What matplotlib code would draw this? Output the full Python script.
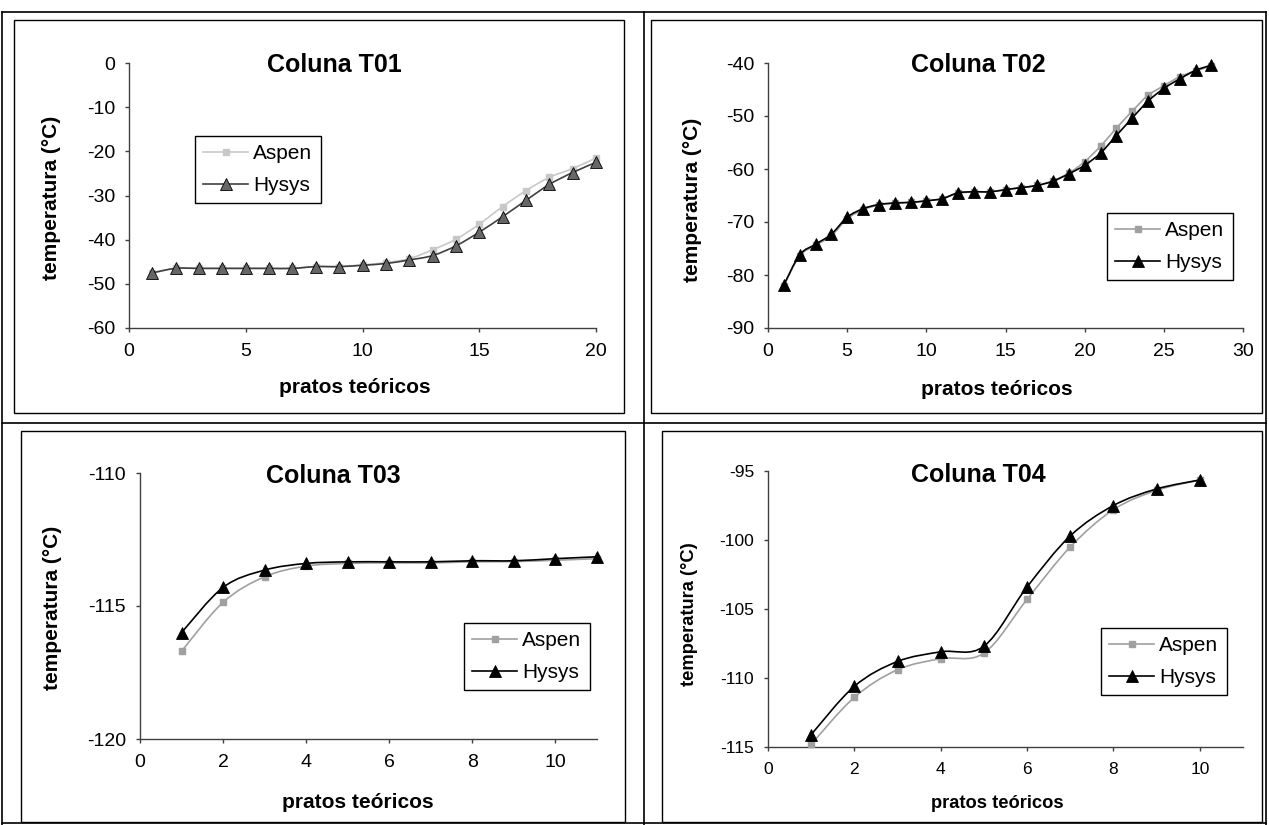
import numpy as np
import matplotlib.pyplot as plt
from matplotlib.path import Path
from matplotlib.patches import PathPatch, Rectangle
from matplotlib.lines import Line2D

plt.rcParams['font.family'] = ['Liberation Sans', 'DejaVu Sans']
plt.rcParams['axes.unicode_minus'] = False

W, H = 1269, 825

# ---- data ----
pratos_t01 = list(range(1, 21))
aspen_t01 = [-47.6, -46.5, -46.5, -46.5, -46.5, -46.5, -46.5, -46.1, -46.1, -45.7,
             -45.2, -44.3, -42.3, -39.9, -36.5, -32.5, -28.9, -25.9, -23.9, -21.5]
hysys_t01 = [-47.5, -46.5, -46.5, -46.5, -46.5, -46.5, -46.5, -46.1, -46.1, -45.8,
             -45.4, -44.6, -43.6, -41.4, -38.3, -34.8, -31.1, -27.5, -24.8, -22.5]

pratos_t02 = list(range(1, 29))
aspen_t02 = [-82.0, -76.4, -74.4, -72.6, -69.4, -67.7, -66.8, -66.5, -66.3, -66.0,
             -65.6, -64.6, -64.3, -64.3, -63.9, -63.5, -63.1, -62.2, -60.8, -58.6,
             -55.7, -52.3, -49.1, -46.1, -44.3, -42.6, -41.5, -40.6]
hysys_t02 = [-81.9, -76.2, -74.2, -72.3, -69.1, -67.5, -66.7, -66.4, -66.3, -66.0,
             -65.6, -64.5, -64.3, -64.3, -63.9, -63.5, -63.1, -62.3, -60.9, -59.3,
             -57.0, -53.7, -50.4, -47.2, -44.8, -43.0, -41.4, -40.4]

pratos_t03 = list(range(1, 12))
aspen_t03 = [-116.7, -114.86, -113.9, -113.5, -113.4, -113.38, -113.38, -113.34,
             -113.33, -113.28, -113.22]
hysys_t03 = [-116.0, -114.3, -113.65, -113.4, -113.34, -113.34, -113.34, -113.3,
             -113.3, -113.22, -113.15]

pratos_t04 = list(range(1, 11))
aspen_t04 = [-114.8, -111.4, -109.4, -108.6, -108.2, -104.3, -100.5, -97.8, -96.4, -95.65]
hysys_t04 = [-114.1, -110.6, -108.8, -108.1, -107.7, -103.4, -99.7, -97.5, -96.3, -95.65]

series_names = ['Aspen', 'Hysys']
titles = ['Coluna T01', 'Coluna T02', 'Coluna T03', 'Coluna T04']
xlabel = 'pratos teóricos'
ylabel = 'temperatura (°C)'


def smooth_path(x, y):
    # Excel-like smoothed line as cubic bezier segments through the points
    pts = np.column_stack([x, y]).astype(float)
    n = len(pts)
    verts = [pts[0]]
    codes = [Path.MOVETO]
    for i in range(n - 1):
        p0 = pts[max(i - 1, 0)]
        p1 = pts[i]
        p2 = pts[i + 1]
        p3 = pts[min(i + 2, n - 1)]
        verts += [p1 + (p2 - p0) / 6, p2 - (p3 - p1) / 6, p2]
        codes += [Path.CURVE4] * 3
    return Path(verts, codes)


fig = plt.figure(figsize=(W / 100, H / 100), dpi=100)


def fx(px):
    return px / W


def fy(py):
    return 1 - py / H


# table lines
for (x0, y0, x1, y1) in [(2, 12, 1266, 12), (2, 423, 1266, 423), (2, 823, 1266, 823),
                         (2, 12, 2, 825), (644, 12, 644, 825), (1266, 12, 1266, 825)]:
    fig.add_artist(Line2D([fx(x0), fx(x1)], [fy(y0), fy(y1)], color='black', lw=1.2))

# chart area boxes
for (l, t, r, b) in [(14, 20, 624, 413), (651, 20, 1262, 413),
                     (21, 431, 625, 822), (662, 431, 1262, 822)]:
    fig.add_artist(Rectangle((fx(l), fy(b)), fx(r - l), (b - t) / H, fill=False,
                             edgecolor='black', lw=1.0))

panels = [
    dict(x=pratos_t01, a=aspen_t01, h=hysys_t01, box=(129, 63, 596, 328),
         xlim=(0, 20), ylim=(-60, 0), xt=np.arange(0, 21, 5), yt=np.arange(-60, 1, 10),
         acol='#c8c8c8', hcol='#404040', hface='#666666',
         title_xy=(334, 65), xl_xy=(355, 388), yl_xy=(52, 198),
         leg=(195, 136), fs=14, lfs=15),
    dict(x=pratos_t02, a=aspen_t02, h=hysys_t02, box=(768, 63, 1243, 328),
         xlim=(0, 30), ylim=(-90, -40), xt=np.arange(0, 31, 5), yt=np.arange(-90, -39, 10),
         acol='#a0a0a0', hcol='black', hface='black',
         title_xy=(978, 65), xl_xy=(997, 390), yl_xy=(693, 200),
         leg=(1107, 213), fs=14, lfs=15),
    dict(x=pratos_t03, a=aspen_t03, h=hysys_t03, box=(140, 473, 597, 739),
         xlim=(0, 11), ylim=(-120, -110), xt=np.arange(0, 11, 2), yt=[-120, -115, -110],
         acol='#a0a0a0', hcol='black', hface='black',
         title_xy=(333, 476), xl_xy=(358, 802), yl_xy=(53, 608),
         leg=(464, 623), fs=14, lfs=15),
    dict(x=pratos_t04, a=aspen_t04, h=hysys_t04, box=(768, 471, 1243, 747),
         xlim=(0, 11), ylim=(-115, -95), xt=np.arange(0, 11, 2), yt=np.arange(-115, -94, 5),
         acol='#a0a0a0', hcol='black', hface='black',
         title_xy=(978, 475), xl_xy=(997, 803), yl_xy=(689, 614),
         leg=(1101, 628), fs=12.5, lfs=13.2),
]

for title, p in zip(titles, panels):
    l, t, r, b = p['box']
    ax = fig.add_axes([fx(l), fy(b), (r - l) / W, (b - t) / H])
    ax.set_xlim(*p['xlim'])
    ax.set_ylim(*p['ylim'])
    ax.set_xticks(p['xt'])
    ax.set_yticks(p['yt'])
    for s in ['top', 'right']:
        ax.spines[s].set_visible(False)
    for s in ['left', 'bottom']:
        ax.spines[s].set_color('#404040')
        ax.spines[s].set_linewidth(1.0)
    ax.tick_params(direction='out', length=3, width=1.0, color='#404040',
                   labelsize=p['fs'], pad=7)
    ax.tick_params(axis='x', pad=8)
    ax.patch.set_alpha(0)

    # Aspen
    ax.add_patch(PathPatch(smooth_path(p['x'], p['a']), fill=False,
                           edgecolor=p['acol'], lw=1.2, zorder=2))
    ax.plot(p['x'], p['a'], ls='none', marker='s', ms=3.8, color=p['acol'],
            clip_on=False, zorder=3)
    # Hysys
    ax.add_patch(PathPatch(smooth_path(p['x'], p['h']), fill=False,
                           edgecolor=p['hcol'], lw=1.2, zorder=4))
    ax.plot(p['x'], p['h'], ls='none', marker='^', ms=9, markerfacecolor=p['hface'],
            markeredgecolor='black', markeredgewidth=0.6, clip_on=False, zorder=5)

    handles = [
        Line2D([], [], color=p['acol'], lw=1.2, marker='s', ms=3.8),
        Line2D([], [], color=p['hcol'], lw=1.2, marker='^', ms=9,
               markerfacecolor=p['hface'], markeredgecolor='black', markeredgewidth=0.6),
    ]
    lx, ly = p['leg']
    leg = ax.legend(handles, series_names, loc='upper left',
                    bbox_to_anchor=(fx(lx), fy(ly)), bbox_transform=fig.transFigure,
                    borderaxespad=0, fancybox=False, framealpha=1, edgecolor='black',
                    fontsize=15, handlelength=2.15, handletextpad=0.25,
                    labelspacing=0.6, borderpad=0.4)
    leg.get_frame().set_linewidth(1.0)

    fig.text(fx(p['title_xy'][0]), fy(p['title_xy'][1]), title, ha='center', va='center',
             fontsize=18, fontweight='bold')
    fig.text(fx(p['xl_xy'][0]), fy(p['xl_xy'][1]), xlabel, ha='center', va='center',
             fontsize=p['lfs'], fontweight='bold')
    fig.text(fx(p['yl_xy'][0]), fy(p['yl_xy'][1]), ylabel, ha='center', va='center',
             rotation=90, fontsize=p['lfs'], fontweight='bold')

fig.savefig('out.png', dpi=100)
